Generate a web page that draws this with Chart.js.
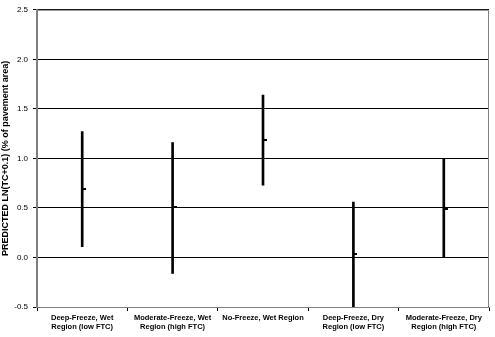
<!DOCTYPE html>
<html lang="en">
<head>
    <meta charset="UTF-8">
    <title>Predicted LN(TC+0.1)</title>
    <script src="https://cdn.jsdelivr.net/npm/chart.js"></script>
    <style>
        html, body { margin: 0; padding: 0; background: #fff; }
        #wrap { width: 495px; height: 337px; }
    </style>
</head>
<body>
    <div id="wrap"><canvas id="rangeChart"></canvas></div>

    <script>
        // data
        let regions = [
            ["Deep-Freeze, Wet", "Region (low FTC)"],
            ["Moderate-Freeze, Wet", "Region (high FTC)"],
            ["No-Freeze, Wet Region"],
            ["Deep-Freeze, Dry", "Region (low FTC)"],
            ["Moderate-Freeze, Dry", "Region (high FTC)"]
        ];
        let lowValues = [0.11, -0.16, 0.73, -0.5, 0.0];
        let highValues = [1.27, 1.16, 1.64, 0.56, 0.99];
        let predicted = [0.69, 0.51, 1.19, 0.04, 0.49];
        let yTicks = [-0.5, 0.0, 0.5, 1.0, 1.5, 2.0, 2.5];

        // small dash drawn to the right of each range line
        let marker = document.createElement("canvas");
        marker.width = 8;
        marker.height = 2;
        let mctx = marker.getContext("2d");
        mctx.fillStyle = "#000";
        mctx.fillRect(4, 0, 4, 2);

        let ranges = lowValues.map((lo, i) => [lo, highValues[i]]);

        // gray frame on top and right of the plot area
        let frame = {
            id: "frame",
            afterDraw(chart) {
                let a = chart.chartArea;
                let c = chart.ctx;
                c.save();
                c.strokeStyle = "#808080";
                c.lineWidth = 1;
                c.beginPath();
                c.moveTo(a.left, a.top + 0.5);
                c.lineTo(a.right - 0.5, a.top + 0.5);
                c.lineTo(a.right - 0.5, a.bottom);
                c.stroke();
                c.restore();
            }
        };

        new Chart(document.getElementById("rangeChart"), {
            type: "bar",
            data: {
                labels: regions,
                datasets: [
                    {
                        label: "Range",
                        data: ranges,
                        backgroundColor: "#000",
                        barThickness: 2,
                        order: 2
                    },
                    {
                        type: "line",
                        label: "Predicted",
                        data: predicted,
                        showLine: false,
                        pointStyle: marker,
                        pointRadius: 4,
                        order: 1
                    }
                ]
            },
            options: {
                responsive: true,
                maintainAspectRatio: false,
                animation: false,
                layout: { padding: { top: 7, right: 6, left: 0, bottom: 0 } },
                plugins: {
                    legend: { display: false },
                    tooltip: { enabled: false }
                },
                scales: {
                    x: {
                        offset: true,
                        grid: {
                            offset: true,
                            drawOnChartArea: false,
                            color: "#000",
                            tickLength: 4
                        },
                        border: { color: "#808080" },
                        ticks: {
                            color: "#000",
                            maxRotation: 0,
                            autoSkip: false,
                            padding: 3,
                            font: { family: "Liberation Sans, Arial", size: 7.5, weight: "bold", lineHeight: 1.15 }
                        },
                        afterFit(scale) { scale.height = 30; }
                    },
                    y: {
                        min: -0.5,
                        max: 2.5,
                        afterBuildTicks(scale) {
                            scale.ticks = yTicks.map(v => ({ value: v }));
                        },
                        grid: {
                            color: "#000",
                            tickLength: 4
                        },
                        border: { color: "#808080", width: 2 },
                        ticks: {
                            color: "#000",
                            padding: 5,
                            font: { family: "Liberation Sans, Arial", size: 8 },
                            callback: v => v.toFixed(1)
                        },
                        title: {
                            display: true,
                            text: "PREDICTED LN(TC+0.1) (% of pavement area)",
                            color: "#000",
                            padding: 0,
                            font: { family: "Liberation Sans, Arial", size: 9, weight: "bold" }
                        },
                        afterFit(scale) { scale.width = 37; }
                    }
                }
            },
            plugins: [frame]
        });
    </script>
</body>
</html>
